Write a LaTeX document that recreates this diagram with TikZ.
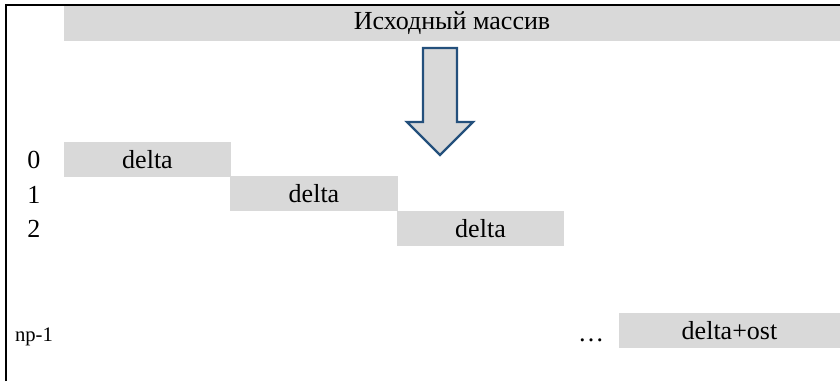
\documentclass[tikz,border=0pt]{standalone}
\usepackage{fontspec}
\setmainfont{Liberation Serif}
\usepackage{tikz}
\usepackage{xcolor}
\usetikzlibrary{positioning}
\definecolor{Cell}{HTML}{D9D9D9}
\definecolor{Navy}{HTML}{24507C}

\begin{document}
\begin{tikzpicture}[x=0.025cm,y=-0.025cm,
  txt/.style={font=\fontsize{18.5}{22}\selectfont},
  cell/.style={txt,fill=Cell,inner sep=0pt,minimum width=4.175cm,minimum height=0.875cm},
  idx/.style={txt,anchor=base}]
  \useasboundingbox (0,0) rectangle (840,381);
  % frame, cut at the right and bottom edges
  \draw[line width=0.05cm] (6,381) -- (6,5) -- (840,5);
  \node[cell,minimum width=19.4cm] (src) at (452,23.5) {Исходный массив};
  % arrow
  \draw[Navy,line width=0.06cm,fill=Cell,line join=miter]
    (423,48) -- (457,48) -- (457,122) -- (473,122) -- (440,155) -- (407,122) -- (423,122) -- cycle;
  % parts
  \node[cell] (part0) at (147.5,159.5) {delta};
  \node[cell] (part1) at (314,193.5) {delta};
  \node[cell] (part2) at (480.5,228.5) {delta};
  \node[cell,minimum width=5.525cm] (partlast) at (729.5,330.5) {delta+ost};
  \node[txt] (idx0) at (34,159.5) {0};
  \node[txt] (idx1) at (34,194.5) {1};
  \node[txt] (idx2) at (34,228.5) {2};
  \node[idx,font=\fontsize{14.7}{17}\selectfont] (idxlast) at (34,341) {np-1};
  \node[idx] (dots) at (591,341) {\dots};
\end{tikzpicture}
\end{document}
